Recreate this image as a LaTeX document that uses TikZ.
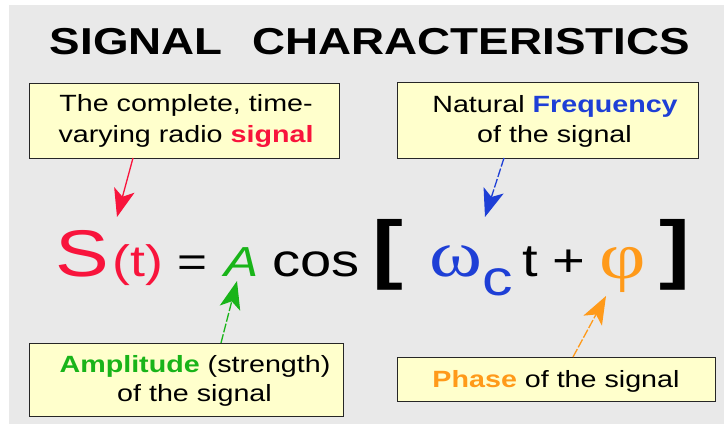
\documentclass[tikz,border=0pt]{standalone}
\usepackage{fontspec}
\setmainfont{Liberation Sans}[FakeStretch=1.22]
\newfontfamily\grk{Liberation Serif}[FakeStretch=1.22]
\usetikzlibrary{arrows.meta}
\definecolor{bg}{HTML}{E9E9E9}
\definecolor{boxfill}{HTML}{FFFFCC}
\definecolor{sred}{HTML}{F8143C}
\definecolor{sblue}{HTML}{1E3FD6}
\definecolor{sgreen}{HTML}{19B419}
\definecolor{sorange}{HTML}{FF9A1A}
\newcommand\fsz[1]{\fontsize{#1}{#1}\selectfont}
\begin{document}
\begin{tikzpicture}[x=1pt,y=-1pt,
  box/.style={draw=black!85,line width=1.4pt,fill=boxfill,inner sep=0pt,anchor=north west},
  lbl/.style={anchor=base,inner sep=0pt,font=\fsz{23.5}},
  eqn/.style={anchor=base,inner sep=0pt},
  ptr/.style={line width=1.3pt,-{Stealth[length=28pt,width=21pt,inset=7pt]}},
  dsh/.style={dash pattern=on 9pt off 2pt}]
\useasboundingbox (0,0) rectangle (724,427);
\fill[white] (0,0) rectangle (724,427);
\fill[bg] (9,5) rectangle (724,424);

% title
\node[anchor=base,inner sep=0pt,font=\bfseries\fsz{37.5}] (title) at (370,55) {SIGNAL\hspace{30pt}CHARACTERISTICS};

% boxes
\node[box,minimum width=310pt,minimum height=75pt] (b1) at (29,83) {};
\node[box,minimum width=301pt,minimum height=76pt] (b2) at (397,82) {};
\node[box,minimum width=314pt,minimum height=73pt] (b3) at (29,343) {};
\node[box,minimum width=318pt,minimum height=44pt] (b4) at (397,357) {};

\node[lbl] (b1a) at (186,112) {The complete, time-};
\node[lbl] (b1b) at (186,143) {varying radio {\bfseries\color{sred}signal}};
\node[lbl] (b2a) at (555,113) {Natural {\bfseries\color{sblue}Frequency}};
\node[lbl] (b2b) at (554.5,143) {of the signal};
\node[lbl] (b3a) at (195,373) {{\bfseries\color{sgreen}Amplitude} (strength)};
\node[lbl] (b3b) at (194.5,402) {of the signal};
\node[lbl] (b4a) at (556,388) {{\bfseries\color{sorange}Phase} of the signal};

% equation
\node[eqn,text=sred,font=\fsz{66}] (S) at (82,277) {S};
\node[eqn,text=sred,font=\fsz{44}] (tt) at (138,277) {(t)};
\node[eqn,font=\fsz{42}] (eq) at (192,277) {=};
\node[eqn,text=sgreen,font=\itshape\fsz{42}] (A) at (242,277) {A};
\node[eqn,font=\fsz{46}] (cos) at (316,277) {cos};
\node[eqn,font=\bfseries\fsz{76}] (lb) at (388,275) {[};
\node[eqn,text=sblue,font=\grk\fsz{66}] (om) at (456,277) {ω};
\node[eqn,text=sblue,font=\fsz{50}] (csub) at (498,296) {c};
\node[eqn,font=\fsz{46}] (t) at (530.5,277) {t};
\node[eqn,font=\fsz{46}] (plus) at (569,277) {+};
\node[eqn,text=sorange,font=\grk\fsz{66}] (phi) at (623,279) {φ};
\node[eqn,font=\bfseries\fsz{76}] (rb) at (675,275) {]};

% pointers
\coordinate (rs) at (133,158); \coordinate (rt) at (117,217);
\coordinate (bs) at (504,158); \coordinate (bt) at (485,217);
\coordinate (gs) at (221,343); \coordinate (gt) at (237,281);
\coordinate (os) at (573,357); \coordinate (ot) at (606,296);
\draw[ptr,sred] (rs) -- (rt);
\draw[ptr,dsh,sblue] (bs) -- (bt);
\draw[ptr,dsh,sgreen] (gs) -- (gt);
\draw[ptr,dsh,sorange] (os) -- (ot);
\end{tikzpicture}
\end{document}
